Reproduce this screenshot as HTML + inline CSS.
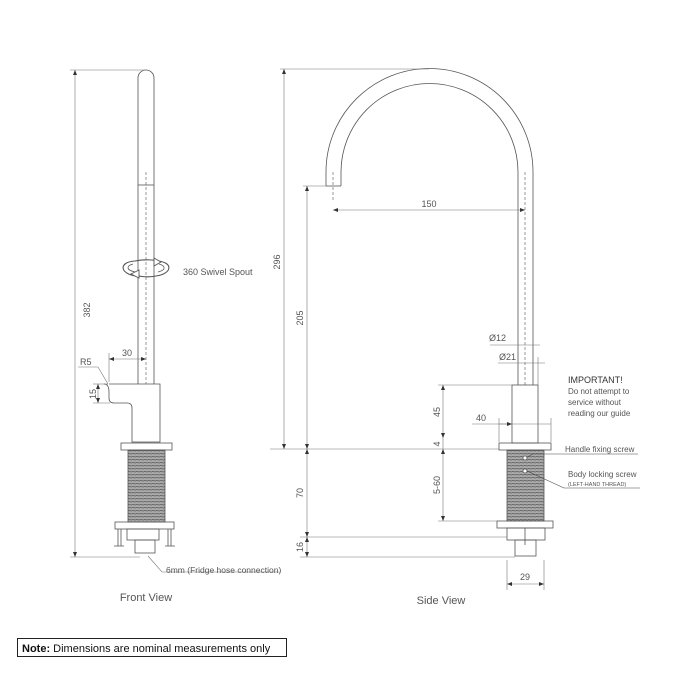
<!DOCTYPE html>
<html><head><meta charset="utf-8"><style>
html,body{margin:0;padding:0;background:#fff;}
svg{display:block;font-family:"Liberation Sans",sans-serif;}
</style></head><body>
<svg width="675" height="675" viewBox="0 0 675 675" xmlns="http://www.w3.org/2000/svg">
<defs>
<pattern id="thr" width="4" height="3" patternUnits="userSpaceOnUse">
<rect width="4" height="3" fill="#aaa"/><line x1="0" y1="0.5" x2="4" y2="1" stroke="#555" stroke-width="0.8"/>
</pattern>
<marker id="a" markerWidth="6" markerHeight="6" refX="5" refY="3" orient="auto-start-reverse" markerUnits="userSpaceOnUse"><path d="M0,1 L5,3 L0,5z" fill="#333"/></marker>
</defs>
<g fill="none" stroke="#555" stroke-width="0.8">
<!-- FRONT VIEW -->
<path d="M138,384 V78 A8,8 0 0 1 154,78 V384"/>
<line x1="138" y1="185" x2="154" y2="185"/>
<line x1="146" y1="172" x2="146" y2="384" stroke-dasharray="3,2" stroke-width="0.6"/>
<path d="M109,384 H160 V442 H132 V408 Q132,403 127,403 H114 Q109,403 109,398 V392 Q109,384 104,384"/>
<rect x="121" y="443" width="51" height="7"/>
<rect x="128" y="450" width="37" height="72" fill="url(#thr)"/>
<rect x="115" y="522" width="59" height="7"/>
<rect x="127" y="529" width="32" height="11"/>
<rect x="135" y="540" width="20" height="13"/>
<path d="M118,529 V546 M121,529 V546 M114,546 H124 M168,529 V546 M171,529 V546 M165,546 H175"/>
<!-- swivel -->
<path d="M136,276 C120,274 118,262 135,261 C145,259 155,260 157,261" stroke-width="1.1"/>
<path d="M156,276 C172,274 174,262 157,261 M156,276 C146,278 136,276 133,274" stroke-width="1.1"/>
<path d="M133,264 C126,266 126,270 135,272 M159,264 C166,266 166,270 158,272" stroke-width="0.8"/>
<path d="M154,258 L161,262 L154,266z" fill="#fff" stroke-width="0.9"/>
<path d="M139,270 L131,274 L139,278z" fill="#fff" stroke-width="0.9"/>
<!-- dims front -->
<g stroke="#777" stroke-width="0.6">
<line x1="75" y1="70" x2="75" y2="557" marker-start="url(#a)" marker-end="url(#a)"/>
<line x1="70" y1="70" x2="146" y2="70"/>
<line x1="70" y1="557" x2="140" y2="557"/>
<line x1="109" y1="353" x2="109" y2="382"/>
<line x1="109" y1="359" x2="146" y2="359" marker-start="url(#a)" marker-end="url(#a)"/>
<line x1="98" y1="384" x2="98" y2="403" marker-start="url(#a)" marker-end="url(#a)"/>
<line x1="93" y1="384" x2="108" y2="384"/><line x1="93" y1="403" x2="110" y2="403"/>
<path d="M78,367 H98 L108,384"/>
<path d="M148,556 L162,572 H280"/>
</g>
<!-- SIDE VIEW -->
<path d="M326,186 V172 A103.5,103.5 0 0 1 533,172 V385"/>
<path d="M341,186 V172 A88.5,88.5 0 0 1 518,172 V385"/>
<line x1="326" y1="186" x2="341" y2="186"/>
<line x1="333" y1="172" x2="333" y2="200" stroke-dasharray="3,2" stroke-width="0.6"/>
<line x1="525" y1="172" x2="525" y2="385" stroke-dasharray="3,2" stroke-width="0.6"/>
<rect x="512" y="385" width="26" height="58"/>
<rect x="499" y="443" width="52" height="7"/>
<rect x="507" y="450" width="37" height="71" fill="url(#thr)"/>
<rect x="497" y="521" width="56" height="7"/>
<rect x="507" y="528" width="38" height="12"/>
<rect x="515" y="540" width="21" height="16"/>
<line x1="525" y1="528" x2="525" y2="545"/>
<circle cx="525" cy="458" r="2" fill="#fff"/>
<circle cx="525" cy="471" r="2" fill="#fff"/>
<g stroke="#777" stroke-width="0.6">
<line x1="284" y1="69" x2="284" y2="449" marker-start="url(#a)" marker-end="url(#a)"/>
<line x1="280" y1="69" x2="429" y2="69"/>
<line x1="307" y1="186" x2="307" y2="449" marker-start="url(#a)" marker-end="url(#a)"/>
<line x1="303" y1="186" x2="326" y2="186"/>
<line x1="270" y1="449" x2="499" y2="449"/>
<line x1="333" y1="210" x2="525" y2="210" marker-start="url(#a)" marker-end="url(#a)"/>
<line x1="443" y1="385" x2="443" y2="438" marker-start="url(#a)" marker-end="url(#a)"/>
<line x1="438" y1="385" x2="512" y2="385"/>
<line x1="443" y1="438" x2="443" y2="449"/>
<line x1="443" y1="449" x2="443" y2="521" marker-start="url(#a)" marker-end="url(#a)"/>
<line x1="438" y1="521" x2="497" y2="521"/>
<line x1="472" y1="424" x2="551" y2="424"/>
<line x1="499" y1="418" x2="499" y2="442"/><line x1="551" y1="418" x2="551" y2="442"/>
<line x1="499" y1="424" x2="512" y2="424" marker-end="url(#a)"/>
<line x1="307" y1="449" x2="307" y2="537" marker-start="url(#a)" marker-end="url(#a)"/>
<line x1="307" y1="537" x2="307" y2="557" marker-start="url(#a)" marker-end="url(#a)"/>
<line x1="300" y1="537" x2="507" y2="537"/>
<line x1="300" y1="557" x2="515" y2="557"/>
<line x1="490" y1="345" x2="540" y2="345"/>
<line x1="498" y1="363" x2="545" y2="363"/>
<line x1="538" y1="357" x2="538" y2="385"/>
<line x1="507" y1="560" x2="507" y2="590"/><line x1="544" y1="560" x2="544" y2="590"/>
<line x1="507" y1="584" x2="544" y2="584" marker-start="url(#a)" marker-end="url(#a)"/>
<path d="M527,457 L533,454 H638" stroke="#444"/>
<path d="M527,471 L564,488 H640" stroke="#444"/>
</g>
</g>
<g fill="#555" font-size="9">
<text x="90" y="310" transform="rotate(-90 90 310)" text-anchor="middle">382</text>
<text x="127" y="356" text-anchor="middle">30</text>
<text x="80" y="365">R5</text>
<text x="96" y="394" transform="rotate(-90 96 394)" text-anchor="middle">15</text>
<text x="183" y="275">360 Swivel Spout</text>
<text x="166" y="573" font-size="8.5">6mm (Fridge hose connection)</text>
<text x="280" y="262" transform="rotate(-90 280 262)" text-anchor="middle">296</text>
<text x="303" y="318" transform="rotate(-90 303 318)" text-anchor="middle">205</text>
<text x="429" y="207" text-anchor="middle">150</text>
<text x="440" y="412" transform="rotate(-90 440 412)" text-anchor="middle">45</text>
<text x="440" y="444" transform="rotate(-90 440 444)" text-anchor="middle">4</text>
<text x="440" y="485" transform="rotate(-90 440 485)" text-anchor="middle">5-60</text>
<text x="481" y="421" text-anchor="middle">40</text>
<text x="303" y="493" transform="rotate(-90 303 493)" text-anchor="middle">70</text>
<text x="303" y="547" transform="rotate(-90 303 547)" text-anchor="middle">16</text>
<text x="489" y="341">Ø12</text>
<text x="499" y="360">Ø21</text>
<text x="525" y="580" text-anchor="middle">29</text>
<text x="568" y="383" fill="#333">IMPORTANT!</text>
<text x="568" y="394" font-size="8">Do not attempt to</text>
<text x="568" y="405" font-size="8">service without</text>
<text x="568" y="416" font-size="8">reading our guide</text>
<text x="565" y="452" font-size="8">Handle fixing screw</text>
<text x="568" y="477" font-size="8">Body locking screw</text>
<text x="568" y="486" font-size="5.5">(LEFT-HAND THREAD)</text>
<text x="146" y="601" font-size="11" text-anchor="middle">Front View</text>
<text x="441" y="604" font-size="11" text-anchor="middle">Side View</text>
</g>
<rect x="17.5" y="638.5" width="269" height="18" fill="none" stroke="#222" stroke-width="1"/>
<text x="22" y="652" font-size="11" fill="#111"><tspan font-weight="bold">Note:</tspan> Dimensions are nominal measurements only</text>
</svg>
</body></html>
